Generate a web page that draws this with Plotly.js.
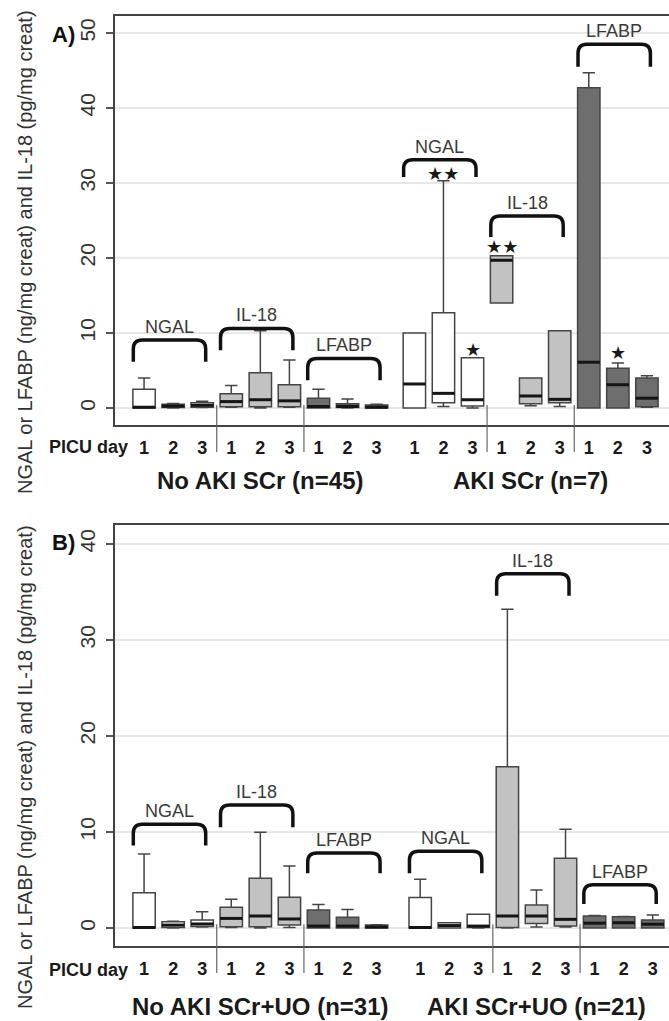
<!DOCTYPE html>
<html><head><meta charset="utf-8">
<script src="https://cdn.plot.ly/plotly-3.0.1.min.js"></script>
<style>html,body{margin:0;padding:0;background:#fff;overflow:hidden}</style>
</head><body><div id="chart" style="width:669px;height:1021px"></div>
<script>
// ---------------- DATA ----------------
const markers = ['NGAL', 'IL-18', 'LFABP'];
const dayLabels = ['1', '2', '3'];
const groupLabelsA = ['No AKI SCr (n=45)', 'AKI SCr (n=7)'];
const groupLabelsB = ['No AKI SCr+UO (n=31)', 'AKI SCr+UO (n=21)'];
const yTicksA = [0, 10, 20, 30, 40, 50];
const yTicksB = [0, 10, 20, 30, 40];

// box order within a group: NGAL d1,d2,d3, IL-18 d1,d2,d3, LFABP d1,d2,d3
// Panel A - No AKI SCr
const A_noAKI_lo  = [0,   0,    0.05, 0.1,  0,    0.1,  0,   0,    0];
const A_noAKI_q1  = [0,   0.05, 0.1,  0.15, 0.15, 0.15, 0,   0.05, 0];
const A_noAKI_med = [0.1, 0.25, 0.35, 0.85, 1.1,  0.95, 0.2, 0.2,  0.1];
const A_noAKI_q3  = [2.5, 0.5,  0.7,  1.9,  4.7,  3.1,  1.3, 0.55, 0.4];
const A_noAKI_hi  = [4.0, 0.6,  0.9,  3.0,  10.3, 6.4,  2.5, 1.2,  0.5];
// Panel A - AKI SCr
const A_AKI_lo  = [0,    0.2,  0,    14.0, 0.3,  0.2,  0,    0,   0.1];
const A_AKI_q1  = [0,    0.7,  0.25, 14.0, 0.55, 0.7,  0,    0,   0.15];
const A_AKI_med = [3.2,  1.95, 1.1,  19.7, 1.6,  1.15, 6.1,  3.1, 1.3];
const A_AKI_q3  = [10.0, 12.7, 6.7,  20.3, 4.0,  10.3, 42.7, 5.3, 4.0];
const A_AKI_hi  = [10.0, 30.3, 6.7,  20.3, 4.0,  10.3, 44.7, 6.0, 4.3];
// Panel B - No AKI SCr+UO
const B_noAKI_lo  = [0,    0,    0.1,  0.05, 0,    0.05, 0,    0,    0];
const B_noAKI_q1  = [0,    0.05, 0.15, 0.14, 0.14, 0.31, 0,    0,    0];
const B_noAKI_med = [0.05, 0.3,  0.42, 1.0,  1.25, 0.94, 0.2,  0.2,  0.1];
const B_noAKI_q3  = [3.68, 0.65, 0.83, 2.15, 5.17, 3.2,  1.87, 1.11, 0.3];
const B_noAKI_hi  = [7.7,  0.7,  1.7,  3.0,  9.97, 6.46, 2.46, 1.94, 0.35];
// Panel B - AKI SCr+UO
const B_AKI_lo  = [0,    0,    0,    0,    0.1,  0.1,  0,    0,    0];
const B_AKI_q1  = [0,    0,    0.05, 0.05, 0.48, 0.2,  0,    0,    0];
const B_AKI_med = [0.05, 0.25, 0.2,  1.25, 1.25, 0.9,  0.5,  0.55, 0.4];
const B_AKI_q3  = [3.19, 0.55, 1.42, 16.8, 2.4,  7.26, 1.25, 1.18, 0.83];
const B_AKI_hi  = [5.07, 0.55, 1.42, 33.2, 3.96, 10.28, 1.3, 1.2,  1.35];

// ---------------- LAYOUT PARAMETERS ----------------
const W = 669, H = 1021, ML = 115;
const XR = [0, 19.06];
const boxW = 0.77;
const fills = ['#ffffff', '#c2c2c2', '#6e6e6e'];
const FONT = 'Liberation Sans, Arial, Helvetica, sans-serif';

const panels = [
  { key: 'A', label: 'A)', groups: groupLabelsA, off: 9.3, top: 16, bot: 425, yr: [-2.27, 52.27], yt: yTicksA,
    stats: [[A_noAKI_lo, A_noAKI_q1, A_noAKI_med, A_noAKI_q3, A_noAKI_hi], [A_AKI_lo, A_AKI_q1, A_AKI_med, A_AKI_q3, A_AKI_hi]],
    brackets: [[[9.07, 6.15], [10.6, 7.7], [6.6, 3.7]], [[33.1, 30.8], [25.6, 22.8], [48.5, 45.5]]],
    stars: [{ g: 1, i: 1, t: '★★', y: 31.3 }, { g: 1, i: 2, t: '★', y: 7.8 }, { g: 1, i: 3, t: '★★', y: 21.5 }, { g: 1, i: 7, t: '★', y: 7.4 }],
    labelY: 34, dayY: 447, groupY: 480, titleY: 252 },
  { key: 'B', label: 'B)', groups: groupLabelsB, off: 9.5, top: 525, bot: 946, yr: [-1.875, 41.98], yt: yTicksB,
    stats: [[B_noAKI_lo, B_noAKI_q1, B_noAKI_med, B_noAKI_q3, B_noAKI_hi], [B_AKI_lo, B_AKI_q1, B_AKI_med, B_AKI_q3, B_AKI_hi]],
    brackets: [[[10.8, 8.6], [12.8, 10.5], [7.8, 5.7]], [[8.0, 5.7], [36.9, 34.6], [4.5, 2.5]]],
    stars: [],
    labelY: 542, dayY: 970, groupY: 1006, titleY: 767 }
];

const px2paperX = px => (px - ML) / (W - ML);
const px2paperY = py => 1 - py / H;
const xPxPerUnit = (W - ML) / (XR[1] - XR[0]);

const traces = [], shapes = [], annotations = [];
const layout = {
  width: W, height: H, margin: { l: ML, r: 0, t: 0, b: 0 },
  paper_bgcolor: '#fff', plot_bgcolor: '#fff', showlegend: false, boxmode: 'overlay',
  font: { family: FONT, color: '#333' }
};

panels.forEach((P, pi) => {
  const xa = pi === 0 ? 'x' : 'x2', ya = pi === 0 ? 'y' : 'y2';
  const xk = pi === 0 ? 'xaxis' : 'xaxis2', yk = pi === 0 ? 'yaxis' : 'yaxis2';
  const yPxPerUnit = (P.bot - P.top) / (P.yr[1] - P.yr[0]);
  const pos = (g, i) => 1 + i + g * P.off;
  const tickVals = [], tickText = [];
  const medX = [], medY = [];

  for (let g = 0; g < 2; g++) {
    const [lo, q1, med, q3, hi] = P.stats[g];
    for (let m = 0; m < 3; m++) {
      const idx = [0, 1, 2].map(d => m * 3 + d);
      const xs = idx.map(i => pos(g, i));
      traces.push({
        type: 'box', xaxis: xa, yaxis: ya, x: xs,
        lowerfence: idx.map(i => lo[i]), q1: idx.map(i => q1[i]), median: idx.map(i => med[i]),
        q3: idx.map(i => q3[i]), upperfence: idx.map(i => hi[i]),
        width: boxW, whiskerwidth: 0.55, fillcolor: fills[m], boxpoints: false,
        line: { color: '#454545', width: 1.5 }, hoverinfo: 'skip'
      });
      idx.forEach((i, d) => {
        tickVals.push(pos(g, i)); tickText.push(dayLabels[d]);
        medX.push(pos(g, i) - boxW / 2, pos(g, i) + boxW / 2, null);
        medY.push(med[i], med[i], null);
      });
      // bracket
      const c = pos(g, m * 3 + 1);
      const x0 = c - 1.37, x1 = c + 1.12;
      const [yt, ye] = P.brackets[g][m];
      const rx = 9 / xPxPerUnit, ry = 9 / yPxPerUnit;
      shapes.push({
        type: 'path', xref: xa, yref: ya,
        path: `M ${x0} ${ye} L ${x0} ${yt - ry} Q ${x0} ${yt} ${x0 + rx} ${yt} L ${x1 - rx} ${yt} Q ${x1} ${yt} ${x1} ${yt - ry} L ${x1} ${ye}`,
        line: { color: '#111', width: 3.5 }
      });
      annotations.push({
        xref: xa, yref: ya, x: (x0 + x1) / 2, y: yt, xanchor: 'center', yanchor: 'bottom', yshift: 1, showarrow: false,
        text: markers[m], font: { size: 18, color: '#3a3a3a', family: FONT }
      });
    }
    // separators between marker blocks
    [[2, 3], [5, 6]].forEach(([a, b]) => {
      const xs = (pos(g, a) + pos(g, b)) / 2;
      const fx = (xs - XR[0]) / (XR[1] - XR[0]);
      const zeroFrac = (0.4 - P.yr[0]) / (P.yr[1] - P.yr[0]);
      const lowFrac = -27 / (P.bot - P.top);
      shapes.push({ type: 'line', xref: xa + ' domain', yref: ya + ' domain', x0: fx, x1: fx, y0: zeroFrac, y1: lowFrac,
        line: { color: '#666', width: 1.2 } });
    });
    // group label
    annotations.push({
      xref: xa, yref: 'paper', x: pos(g, 4), y: px2paperY(P.groupY), xanchor: 'center', yanchor: 'middle', showarrow: false,
      text: P.groups[g], font: { size: 24, color: '#1a1a1a', family: FONT, weight: 700 }
    });
  }
  traces.push({ type: 'scatter', mode: 'lines', xaxis: xa, yaxis: ya, x: medX, y: medY,
    line: { color: '#151515', width: 3 }, hoverinfo: 'skip' });

  P.stars.forEach(s => annotations.push({
    xref: xa, yref: ya, x: pos(s.g, s.i), y: s.y, xanchor: 'center', yanchor: 'middle', showarrow: false, text: s.t,
    font: { size: 18, color: '#1a1a1a', family: 'DejaVu Sans' }
  }));

  annotations.push({ xref: 'paper', yref: 'paper', x: px2paperX(63), y: px2paperY(P.labelY), xanchor: 'center', yanchor: 'middle',
    showarrow: false, text: P.label, font: { size: 22, color: '#111', family: FONT, weight: 700 } });
  annotations.push({ xref: 'paper', yref: 'paper', x: px2paperX(88), y: px2paperY(P.dayY), xanchor: 'center', yanchor: 'middle',
    showarrow: false, text: 'PICU day', font: { size: 18, color: '#1a1a1a', family: FONT, weight: 700 } });
  annotations.push({ xref: 'paper', yref: 'paper', x: px2paperX(25), y: px2paperY(P.titleY), xanchor: 'center', yanchor: 'middle',
    showarrow: false, textangle: -90,
    text: 'NGAL or LFABP (ng/mg creat) and IL-18 (pg/mg creat)', font: { size: 20, color: '#333', family: FONT } });

  layout[xk] = {
    domain: [0, 1], range: XR, anchor: ya, showline: true, mirror: true, linecolor: '#444', linewidth: 2,
    showgrid: false, zeroline: false, ticks: '', tickvals: tickVals, ticktext: tickText, ticklabelstandoff: 5,
    tickfont: { size: 18, color: '#1a1a1a', family: FONT, weight: 700 }, fixedrange: true
  };
  layout[yk] = {
    domain: [1 - P.bot / H, 1 - P.top / H], range: P.yr, anchor: xa, showline: true, linecolor: '#444', linewidth: 2,
    showgrid: true, gridcolor: '#e8e8e8', gridwidth: 2, zeroline: false, tickvals: P.yt, ticktext: P.yt.map(String),
    tickangle: -90, ticks: 'outside', ticklen: 7, tickwidth: 1.5, tickcolor: '#555', ticklabelstandoff: 3,
    tickfont: { size: 21, color: '#333', family: FONT }, fixedrange: true
  };
});

layout.shapes = shapes;
layout.annotations = annotations;
Plotly.newPlot('chart', traces, layout, { displayModeBar: false, staticPlot: true });
</script></body></html>
